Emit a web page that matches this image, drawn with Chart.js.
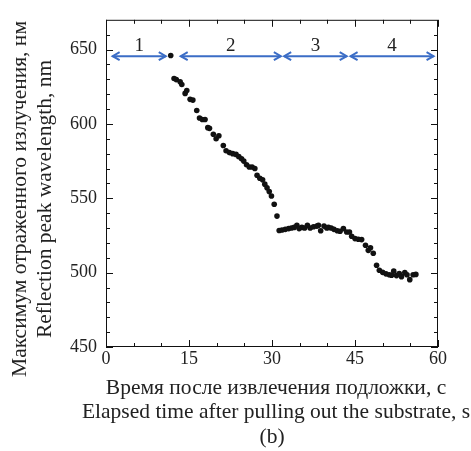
<!DOCTYPE html>
<html lang="ru">
<head>
  <meta charset="UTF-8" />
  <title>Reflection peak wavelength</title>
  <script src="https://cdn.jsdelivr.net/npm/chart.js"></script>
  <style>
    body { margin: 0; background: #fff; }
    #wrap { width: 471px; height: 451px; }
  </style>
</head>
<body>
  <div id="wrap"><canvas id="peakChart" width="471" height="451"></canvas></div>
  <script>
    // measured points, time (s) and peak wavelength (nm)
    const times = [
      11.7, 12.3, 12.7, 13.4, 13.7, 14.3, 14.6, 15.2, 15.7, 16.4,
      16.9, 17.4, 17.9, 18.4, 18.7, 19.4, 19.9, 20.4, 21.2, 21.7,
      22.3, 22.9, 23.5, 24.0, 24.5, 24.9, 25.4, 25.9, 26.4, 26.9,
      27.3, 27.8, 28.3, 28.7, 29.1, 29.5, 29.9, 30.4, 30.9, 31.3,
      31.8, 32.4, 33.0, 33.5, 34.0, 34.5, 34.9, 35.4, 35.9, 36.4,
      36.9, 37.5, 38.1, 38.4, 38.8, 39.4, 39.9, 40.2, 40.7, 41.2,
      41.8, 42.3, 42.9, 43.5, 44.0, 44.4, 45.0, 45.6, 46.2, 46.9,
      47.4, 47.8, 48.3, 48.9, 49.4, 50.0, 50.6, 51.2, 51.6, 52.0,
      52.5, 53.0, 53.4, 54.0, 54.4, 54.9, 55.5, 56.0
    ];
    const wavelengths = [
      646, 630.5, 629.8, 628.3, 626.5, 620.5, 622.5, 616.5, 616, 609,
      604, 603, 603, 597.5, 597, 593, 590, 592, 585.5, 582,
      580.7, 580, 579.5, 578, 576.5, 575, 572.5, 571, 571, 570,
      565.5, 563.5, 562.5, 559.5, 557, 554.5, 551.5, 546, 538, 528.3,
      528.7, 529.1, 529.6, 530, 530.4, 531.8, 529.6, 530.4, 530, 531.8,
      530, 530.9, 531.3, 531.8, 528.2, 531.3, 530, 530.4, 530, 529.1,
      528.2, 527.8, 529.6, 527.3, 527.3, 524.5, 522.9, 522.4, 522.2, 518.4,
      515, 516.7, 513, 505, 501.6, 500.2, 499.2, 498.6, 498.2, 501,
      498, 499.4, 497.3, 500, 498.6, 495.3, 498.6, 498.8
    ];

    // stage arrows
    const stageLabels = ['1', '2', '3', '4'];
    const stageStart = [1.2, 13.5, 32.2, 44.2];
    const stageEnd = [10.8, 31.6, 43.5, 59.2];
    const stageArrowY = 645.5;
    const stageLabelY = 652.5;

    const xTicks = [0, 15, 30, 45, 60];
    const yTicks = [450, 500, 550, 600, 650];
    const xRange = [0, 60];
    const yRange = [450, 670];

    const blue = '#3b6dc6';
    const serif = "'Liberation Serif', 'DejaVu Serif', serif";

    const points = times.map((t, i) => ({ x: t, y: wavelengths[i] }));

    const arrowSets = stageLabels.map((lbl, i) => ({
      label: 'stage ' + lbl,
      isArrow: true,
      data: [{ x: stageStart[i], y: stageArrowY }, { x: stageEnd[i], y: stageArrowY }],
      showLine: true,
      borderColor: blue,
      borderWidth: 2,
      pointRadius: 0
    }));

    const framePlugin = {
      id: 'frame',
      afterDatasetsDraw(chart) {
        const { ctx, chartArea: a, scales } = chart;
        const xs = scales.x, ys = scales.y;
        ctx.save();
        ctx.strokeStyle = '#111';
        ctx.lineWidth = 1;
        ctx.strokeRect(a.left + 0.5, a.top + 0.5, a.right - a.left - 1, a.bottom - a.top - 1);

        // inward ticks on all four sides
        ctx.beginPath();
        for (let v = xRange[0]; v <= xRange[1]; v += 5) {
          const px = Math.round(xs.getPixelForValue(v)) + 0.5;
          const len = v % 15 === 0 ? 7 : 4;
          ctx.moveTo(px, a.bottom); ctx.lineTo(px, a.bottom - len);
          ctx.moveTo(px, a.top); ctx.lineTo(px, a.top + len);
        }
        for (let v = yRange[0]; v < yRange[1]; v += 10) {
          const py = Math.round(ys.getPixelForValue(v)) + 0.5;
          const len = v % 50 === 0 ? 7 : 4;
          ctx.moveTo(a.left, py); ctx.lineTo(a.left + len, py);
          ctx.moveTo(a.right, py); ctx.lineTo(a.right - len, py);
        }
        ctx.stroke();

        // arrow heads
        ctx.strokeStyle = blue;
        ctx.lineWidth = 2;
        chart.data.datasets.forEach((ds, i) => {
          if (!ds.isArrow) return;
          const [p0, p1] = chart.getDatasetMeta(i).data;
          ctx.beginPath();
          ctx.moveTo(p0.x + 7, p0.y - 4); ctx.lineTo(p0.x, p0.y); ctx.lineTo(p0.x + 7, p0.y + 4);
          ctx.moveTo(p1.x - 7, p1.y - 4); ctx.lineTo(p1.x, p1.y); ctx.lineTo(p1.x - 7, p1.y + 4);
          ctx.stroke();
        });

        // stage numbers
        ctx.fillStyle = '#222';
        ctx.font = '19px ' + serif;
        ctx.textAlign = 'center';
        ctx.textBaseline = 'middle';
        stageLabels.forEach((lbl, i) => {
          const mid = (stageStart[i] + stageEnd[i]) / 2;
          ctx.fillText(lbl, xs.getPixelForValue(mid), ys.getPixelForValue(stageLabelY));
        });
        ctx.restore();
      },
      afterDraw(chart) {
        const { ctx, chartArea: a } = chart;
        const cx = (a.left + a.right) / 2;
        ctx.save();
        ctx.fillStyle = '#222';
        ctx.font = '21.5px ' + serif;
        ctx.textAlign = 'center';
        ctx.textBaseline = 'middle';
        ctx.fillText('Время после извлечения подложки, с', cx + 4, 388);
        ctx.fillText('Elapsed time after pulling out the substrate, s', cx + 4, 412);
        ctx.fillText('(b)', cx, 437);

        ctx.translate(0, 199);
        ctx.rotate(-Math.PI / 2);
        ctx.fillText('Максимум отраженного излучения, нм', 0, 20);
        ctx.fillText('Reflection peak wavelength, nm', 0, 45);
        ctx.restore();
      }
    };

    new Chart(document.getElementById('peakChart'), {
      type: 'scatter',
      data: {
        datasets: [{
          label: 'peak',
          data: points,
          backgroundColor: '#111',
          borderWidth: 0,
          pointRadius: 2.8
        }, ...arrowSets]
      },
      options: {
        responsive: false,
        animation: false,
        layout: { padding: { top: 15, right: 33, left: 0, bottom: 0 } },
        plugins: { legend: { display: false }, tooltip: { enabled: false } },
        scales: {
          x: {
            type: 'linear',
            min: xRange[0],
            max: xRange[1],
            afterBuildTicks: s => { s.ticks = xTicks.map(v => ({ value: v })); },
            afterFit: s => { s.height = 104; },
            grid: { display: false, drawTicks: false },
            border: { display: false },
            ticks: { padding: 1, color: '#222', font: { family: serif, size: 18 }, maxRotation: 0 }
          },
          y: {
            type: 'linear',
            min: yRange[0],
            max: yRange[1],
            afterBuildTicks: s => { s.ticks = yTicks.map(v => ({ value: v })); },
            afterFit: s => { s.width = 106; },
            grid: { display: false, drawTicks: false },
            border: { display: false },
            ticks: { padding: 9, color: '#222', font: { family: serif, size: 18 } }
          }
        }
      },
      plugins: [framePlugin]
    });
  </script>
</body>
</html>
